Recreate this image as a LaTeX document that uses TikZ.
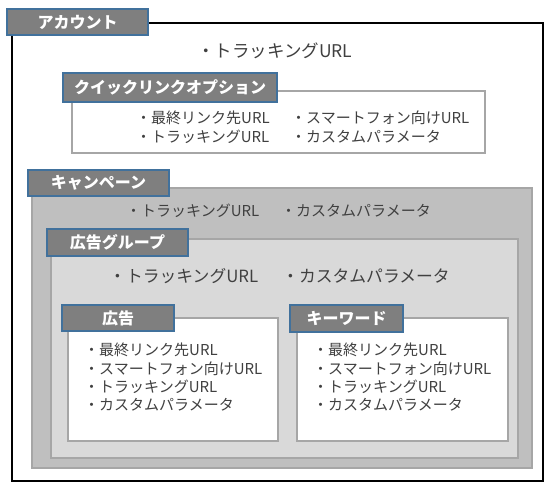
\documentclass[tikz,border=0pt]{standalone}
\usepackage{fontspec}
\newfontfamily\jpfont{Noto Sans CJK JP}
\definecolor{tabgray}{HTML}{7F7F7F}
\definecolor{tabblue}{HTML}{41719C}
\definecolor{boxline}{HTML}{A6A6A6}
\definecolor{campfill}{HTML}{BFBFBF}
\definecolor{groupfill}{HTML}{D9D9D9}
\definecolor{itemtext}{HTML}{404040}
\begin{document}
\begin{tikzpicture}[x=1pt, y=-1pt, font=\jpfont]
    \tikzstyle{frame} = [draw=boxline, line width=1.3pt, rectangle, anchor=north west, inner sep=0pt, outer sep=0pt]
    \tikzstyle{tab} = [draw=tabblue, fill=tabgray, line width=1.3pt, rectangle, anchor=north west, inner sep=0pt, outer sep=0pt, text=white, font=\jpfont\bfseries\fontsize{16}{16}\selectfont]
    \tikzstyle{item} = [anchor=west, inner sep=0pt, text=itemtext, font=\jpfont\fontsize{15}{18}\selectfont]
    \tikzstyle{items} = [anchor=north west, inner sep=0pt, align=left, text=itemtext, font=\jpfont\fontsize{15}{18.3}\selectfont]

    \useasboundingbox (0,0) rectangle (559,497);

    % account
    \node[frame, draw=black, fill=white, minimum width=531, minimum height=458] (account) at (12,23) {};
    \node[tab, minimum width=141, minimum height=26] (accounttab) at (7,9) {アカウント};
    \node[item, font=\jpfont\fontsize{17.5}{18}\selectfont] (accounturl) at (197,51) {・トラッキングURL};

    % quick links
    \node[frame, fill=white, minimum width=413, minimum height=62] (quick) at (72,91) {};
    \node[tab, minimum width=214, minimum height=29] (quicktab) at (63,73) {クイックリンクオプション};
    \node[items] (quickleft) at (136,111) {・最終リンク先URL\\・トラッキングURL};
    \node[items] (quickright) at (291,111) {・スマートフォン向けURL\\・カスタムパラメータ};

    % campaign
    \node[frame, fill=campfill, minimum width=500, minimum height=280] (campaign) at (32,188) {};
    \node[tab, minimum width=141, minimum height=26] (campaigntab) at (28,170) {キャンペーン};
    \node[item] (campaignurl) at (126,211) {・トラッキングURL};
    \node[item] (campaignparam) at (281,211) {・カスタムパラメータ};

    % ad group
    \node[frame, fill=groupfill, minimum width=467, minimum height=219] (adgroup) at (51,239) {};
    \node[tab, minimum width=141, minimum height=27] (adgrouptab) at (47,229) {広告グループ};
    \node[item, font=\jpfont\fontsize{16.8}{18}\selectfont] (adgroupurl) at (109,276) {・トラッキングURL};
    \node[item, font=\jpfont\fontsize{16.8}{18}\selectfont] (adgroupparam) at (282,276) {・カスタムパラメータ};

    % ad
    \node[frame, fill=white, minimum width=210, minimum height=123] (ad) at (68,318) {};
    \node[tab, minimum width=112, minimum height=26] (adtab) at (62,305) {広告};
    \node[items] (aditems) at (84,343) {・最終リンク先URL\\・スマートフォン向けURL\\・トラッキングURL\\・カスタムパラメータ};

    % keyword
    \node[frame, fill=white, minimum width=211, minimum height=123] (keyword) at (297,318) {};
    \node[tab, minimum width=113, minimum height=27] (keywordtab) at (290,305) {キーワード};
    \node[items] (keyworditems) at (313,343) {・最終リンク先URL\\・スマートフォン向けURL\\・トラッキングURL\\・カスタムパラメータ};
\end{tikzpicture}
\end{document}
